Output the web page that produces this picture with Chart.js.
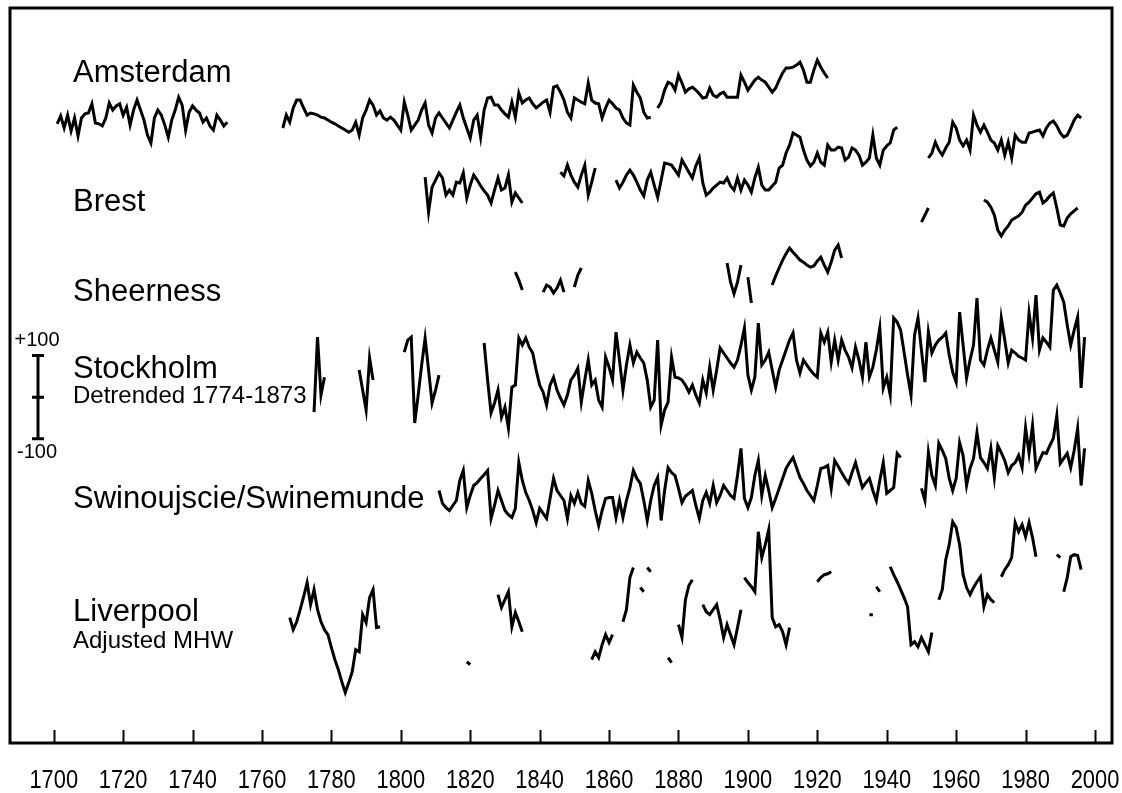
<!DOCTYPE html>
<html>
<head>
<meta charset="utf-8">
<script src="https://cdn.jsdelivr.net/npm/chart.js@4.4.1/dist/chart.umd.min.js"></script>
<style>
  html, body { margin: 0; padding: 0; background: #fff; }
  #wrap { width: 1122px; height: 793px; }
</style>
</head>
<body>
<div id="wrap"><canvas id="chart"></canvas></div>
<script>
// x axis: years
const tickYears = [1700, 1720, 1740, 1760, 1780, 1800, 1820, 1840, 1860, 1880, 1900, 1920, 1940, 1960, 1980, 2000];
const yearMin = 1687.4;
const yearMax = 2004.9;

// sea level anomalies in mm, one value per year
// each station = list of runs [first year, values]; the line breaks between runs
const amsterdam = [
  [1701, [-14,5,-24,7,-31,0,-43,0,10,12,34,-12,-14,-19,0,36,19,29,34,7,26,-17,19,43,19,-5,-41,-60,0,19,7,-17,-46,-5,19,50,31,-29,14,29,19,12,-10,0,-19,-29,7,-5,-19,-10]],
  [1766, [-24,7,-10,24,43,43,24,7,12,10,
          7,2,0,-5,-10,-14,-19,-24,-29,-34,
          -29,-10,-41,0,19,43,31,7,17,0,
          -5,2,-5,-17,-29,38,7,-29,-17,-5,
          19,36,-17,-36,0,12,0,-12,-24,-5,
          14,31,0,-24,-48,-5,7,-46,19,48,
          50,31,31,19,10,2,38,2,60,36,
          43,48,34,24,31,38,43,14,74,77,
          62,43,14,0,48,43,38,34,84,43,
          36,34,0,24,43,34,24,19,0,-12,
          -17,79,62,48,14,0,2]],
  [1874, [24,38,67,86,82,67,103,84,62,70,
          74,67,58,48,50,72,55,50,58,62,
          50,50,50,50,103,86,67,79,91,98,
          91,86,74,62,72,91,108,120,120,122,
          127,134,115,86,86,115,139,122,108,96]]
];

const brest = [
  [1807, [-22,-106,-46,-29,-12,-24,-65,-53,-65,-34,-36,-12,-72,-41,-17,-29,-43,-55,-65,-84,-53,-24,-53,-48,-17,-82,-60,-72,-84]],
  [1846, [-10,-19,7,-17,-34,-46,-17,7,-65,-34,0]],
  [1862, [-29,-48,-34,-17,-5,-17,-34,-53,-67,-29,
          -10,-41,-70,-29,12,10,7,-5,-17,19,
          5,-10,-24,5,24,-36,-65,-58,-48,-41,
          -34,-36,-24,-43,-53,-24,-53,-29,-41,-58,
          -24,2,-41,-53,-53,-43,-34,0,7,36,
          55,84,79,74,43,19,5,14,36,14,
          7,55,43,43,50,48,19,26,48,43,
          31,7,14,24,79,24,7,43,53,60,
          91,98]],
  [1952, [24,36,62,43,31,48,62,110,96,67,
          53,67,43,127,103,86,103,86,67,60,
          43,67,31,62,24,79,67,62,62,84,
          86,89,91,77,96,108,113,101,84,74,
          79,96,115,127,120]]
];

const sheerness = [
  [1833, [-10,-29,-53]],
  [1841, [-58,-41,-46,-60,-48,-29,-58]],
  [1850, [-46,-17,0]],
  [1894, [12,-34,-62,-34,7]],
  [1900, [-22,-84]],
  [1907, [-41,-19,0,19,34,48,38,29,19,14,7,2,5,17,26,7,-10,14,43,55,24]],
  [1950, [110,127,144]],
  [1968, [163,158,146,127,91,77,91,101,115,120,125,134,151,158,168,178,182,156,163,173,180,144,103,101,120,130,137,144]]
];

const stockholm = [
  [1775, [-36,144,5,48]],
  [1788, [65,17,-31,94,41]],
  [1801, [108,137,144,-62,5,77,142,65,-14,17,53]],
  [1824, [130,41,-38,-14,17,-48,-24,-74,24,29,
          142,125,142,120,106,65,29,12,-19,29,
          48,17,-2,-19,5,41,53,70,-12,41,
          89,29,41,-7,-24,96,72,41,156,89,
          17,77,125,82,108,94,82,41,-24,-7,
          137,-67,-31,-12,96,48,46,41,29,12,
          29,5,-14,41,10,72,17,65,118,106,
          94,82,72,89,125,166,53,17,48,178,
          77,89,108,65,24,65,89,113,137,154,
          89,58,89,77,65,55,48,154,132,156,
          84,137,89,137,113,96,70,120,89,48,
          132,48,72,113,166,22,48,5,190,180,
          161,108,53,5,149,190,113,36,156,106,
          125,137,144,154,101,60,36,204,125,46,
          89,125,238,89,77,113,142,113,84,190,
          137,82,113,106,98,94,89,202,142,245,
          113,142,132,120,257,269,250,228,173,125,
          161,192,22,144]]
];

const swinoujscie = [
  [1811, [-24,-55,-65,-72,-60,-48,0,24,-65,-36,
          -12,-5,5,14,24,-91,-60,-24,-48,-72,
          -82,-89,-67,43,0,-29,-48,-72,-101,-67,
          -79,-91,-43,5,-24,-36,-48,-91,-36,-55,
          -29,-55,-62,0,-31,-72,-108,-72,-43,-41,
          -41,-89,-48,-89,-48,-17,24,5,-7,-48,
          -96,-48,-12,7,-96,-24,31,19,12,-19,
          -53,-38,-31,-24,-60,-91,-48,-29,-55,-12,
          -53,-36,-12,-24,-36,-43,12,77,-43,-65,
          -41,12,48,-36,12,-24,-65,-43,-19,5,
          29,43,55,31,7,-7,-24,-36,-48,-12,
          29,31,36,-19,48,34,19,5,-7,19,
          43,12,-17,-5,5,-24,-48,0,43,-31,
          -24,-17,65,55]],
  [1950, [-19,-48,67,12,-12,89,72,53,5,-24,
          5,91,60,-12,29,53,115,55,43,29,
          77,7,84,67,48,19,36,43,60,31,
          127,65,132,29,48,67,65,84,101,156,
          41,53,65,31,72,125,-12,77]]
];

const liverpool = [
  [1768, [-19,-48,-29,0,31,65,12,48,0,-29,-48,-60,-91,-120,-144,-173,-199,-175,-149,-96,-101,-12,-31,29,48,-43,-41]],
  [1819, [-125,-132]],
  [1828, [36,5,24,43,-41,-7,-29,-53]],
  [1855, [-120,-101,-115,-84,-60,-79,-60]],
  [1864, [-29,0,77,101]],
  [1869, [53,43]],
  [1871, [101,91]],
  [1877, [-115,-127]],
  [1880, [-36,-67,24,58,72]],
  [1887, [12,-5,-12,0,12,-24,-67,-36,-60,-84,-43,0]],
  [1899, [77,65,55,43,187,125,156,192,-19,-41,-36,-53,-84,-43]],
  [1920, [67,77,84,86,91]],
  [1935, [-12,-12]],
  [1937, [55,43]],
  [1941, [103,84,67,48,29,7,-84,-77,-89,-67,-84,-101,-55]],
  [1955, [24,48,120,156,211,197,156,84,53,36,53,67,79,7,36,24,17]],
  [1973, [79,96,108,125,209,187,204,175,209,173,127]],
  [1989, [132,125]],
  [1991, [43,77,127,132,130,96]]
];

const stations = [amsterdam, brest, sheerness, stockholm, swinoujscie, liverpool];
const stationNames = ['Amsterdam', 'Brest', 'Sheerness', 'Stockholm', 'Swinoujscie/Swinemunde', 'Liverpool'];
const stationNotes = ['', '', '', 'Detrended 1774-1873', '', 'Adjusted MHW'];
// vertical stacking of the curves (mm)
const offsets = [1500, 1380, 1140, 830, 630, 320];
const yTop = 1764;

// label layout
const nameBaseline = [82, 211, 301, 378, 508, 621];
const noteBaseline = [0, 0, 0, 403, 0, 648];

function toPoints(runs, offset) {
  const pts = [];
  runs.forEach(([start, vals], i) => {
    if (i > 0) pts.push({ x: start - 0.5, y: null });
    vals.forEach((v, k) => pts.push({ x: start + k, y: offset + v }));
  });
  return pts;
}

const datasets = stations.map((runs, i) => ({
  label: stationNames[i],
  data: toPoints(runs, offsets[i]),
  borderColor: '#000',
  borderWidth: 3,
  pointRadius: 0,
  tension: 0,
  spanGaps: false
}));

const font = '"Liberation Sans", Arial, sans-serif';

const framePlugin = {
  id: 'frame',
  afterDraw(chart) {
    const { ctx, chartArea: a, scales: { x, y } } = chart;
    ctx.save();
    ctx.strokeStyle = '#000';
    ctx.lineWidth = 3;
    ctx.strokeRect(a.left, a.top, a.right - a.left, a.bottom - a.top);

    // ticks point inward from the bottom edge, year labels below (narrow lettering)
    ctx.beginPath();
    tickYears.forEach(t => {
      const px = Math.round(x.getPixelForValue(t)) + 0.5;
      ctx.moveTo(px, a.bottom);
      ctx.lineTo(px, a.bottom - 13);
    });
    ctx.lineWidth = 2;
    ctx.stroke();

    ctx.fillStyle = '#000';
    ctx.textAlign = 'center';
    ctx.textBaseline = 'alphabetic';
    ctx.font = '26px ' + font;
    tickYears.forEach(t => {
      const px = x.getPixelForValue(t);
      ctx.save();
      ctx.translate(px, a.bottom + 45);
      ctx.scale(0.84, 1);
      ctx.fillText(String(t), 0, 0);
      ctx.restore();
    });

    // station names
    ctx.textAlign = 'left';
    ctx.font = '31px ' + font;
    stationNames.forEach((n, i) => ctx.fillText(n, 73, nameBaseline[i]));
    ctx.font = '24px ' + font;
    stationNotes.forEach((n, i) => { if (n) ctx.fillText(n, 73, noteBaseline[i]); });

    // +/-100 mm scale bar next to Stockholm
    const yHi = y.getPixelForValue(offsets[3] + 100);
    const yMid = y.getPixelForValue(offsets[3]);
    const yLo = y.getPixelForValue(offsets[3] - 100);
    ctx.lineWidth = 3;
    ctx.beginPath();
    ctx.moveTo(38, yHi); ctx.lineTo(38, yLo);
    [yHi, yMid, yLo].forEach(v => { ctx.moveTo(32, v); ctx.lineTo(44, v); });
    ctx.stroke();
    ctx.textAlign = 'center';
    ctx.font = '20px ' + font;
    ctx.fillText('+100', 37, yHi - 10);
    ctx.fillText('-100', 37, yLo + 19);
    ctx.restore();
  }
};

new Chart(document.getElementById('chart'), {
  type: 'line',
  data: { datasets },
  options: {
    responsive: true,
    maintainAspectRatio: false,
    animation: false,
    layout: { padding: { left: 10, right: 10, top: 8, bottom: 0 } },
    plugins: { legend: { display: false }, tooltip: { enabled: false } },
    scales: {
      x: {
        type: 'linear',
        min: yearMin,
        max: yearMax,
        afterBuildTicks: s => { s.ticks = tickYears.map(v => ({ value: v })); },
        afterFit: s => { s.height = 50; s.paddingLeft = 0; s.paddingRight = 0; },
        grid: { display: false, drawTicks: false },
        border: { display: false },
        ticks: { display: false }
      },
      y: { display: false, min: 0, max: yTop }
    }
  },
  plugins: [framePlugin]
});
</script>
</body>
</html>
